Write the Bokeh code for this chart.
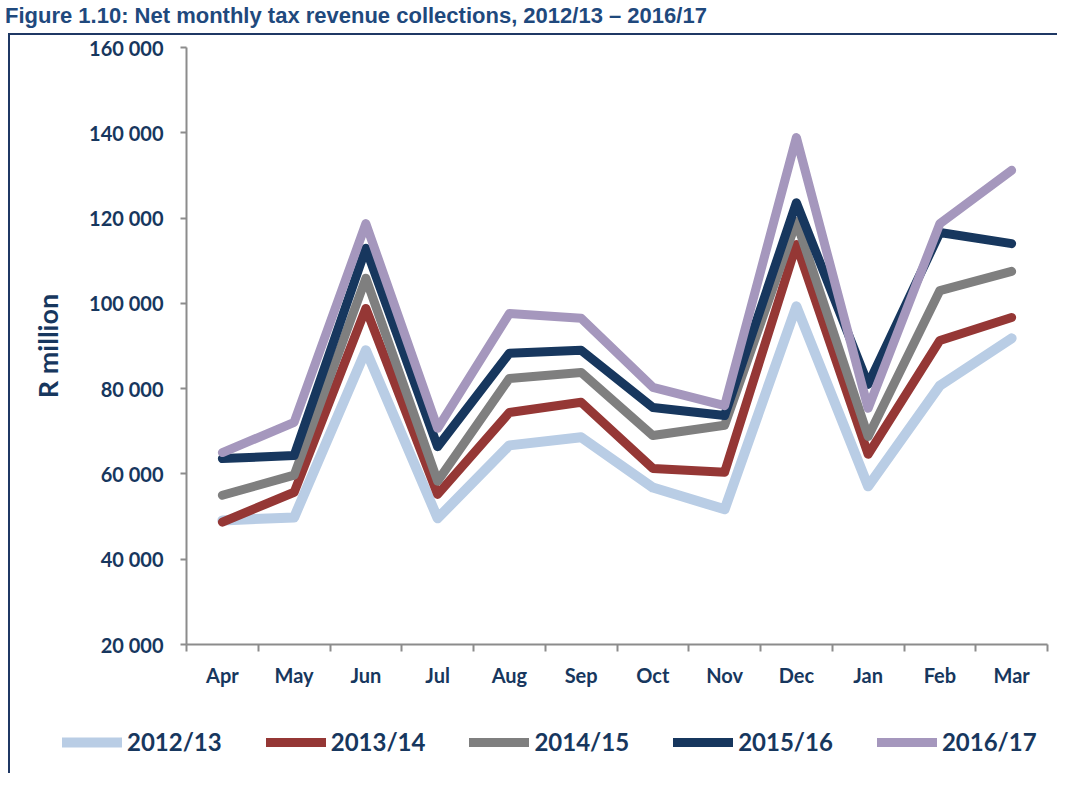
from bokeh.plotting import figure
from bokeh.models import Range1d, FixedTicker, Legend, LegendItem, Div
from bokeh.embed import file_html
from bokeh.resources import INLINE

title_text = "Figure 1.10: Net monthly tax revenue collections, 2012/13 \u2013 2016/17"
months = ["Apr", "May", "Jun", "Jul", "Aug", "Sep", "Oct", "Nov", "Dec", "Jan", "Feb", "Mar"]
series_names = ["2012/13", "2013/14", "2014/15", "2015/16", "2016/17"]
s2012 = [49100, 49800, 89000, 49600, 66700, 68600, 56800, 51700, 99300, 57100, 80700, 91800]
s2013 = [48700, 55700, 98800, 55200, 74400, 76800, 61300, 60400, 113800, 64600, 91300, 96700]
s2014 = [55000, 59700, 105900, 58300, 82400, 83800, 69000, 71400, 119200, 68800, 103000, 107500]
s2015 = [63600, 64300, 112900, 66400, 88300, 89000, 75600, 73700, 123600, 81000, 116600, 114000]
s2016 = [65000, 72100, 118700, 70700, 97600, 96500, 80300, 76000, 138900, 75400, 118700, 131200]
y_ticks = [20000, 40000, 60000, 80000, 100000, 120000, 140000, 160000]
y_tick_labels = ["20 000", "40 000", "60 000", "80 000", "100 000", "120 000", "140 000", "160 000"]
y_label = "R million"

colors = ["#B9CDE5", "#953735", "#7F7F7F", "#17375E", "#A597BD"]
widths = [10, 9, 9, 9, 9]
TEXT = "#17375E"
AXIS = "#8C8C8C"
BORDER = "2px solid #1F3864"
FONT = "Lato"

xs = [i + 1 for i in range(len(months))]
series = [s2012, s2013, s2014, s2015, s2016]

# ---- main chart ----
p = figure(width=1049, height=690, output_backend="svg", toolbar_location=None,
           x_range=Range1d(0.5, len(months) + 0.5), y_range=Range1d(y_ticks[0], y_ticks[-1]),
           min_border_left=176, min_border_right=12, min_border_top=12, min_border_bottom=81,
           margin=(0, 0, 0, 8),
           styles={"border-top": BORDER, "border-left": BORDER})
p.outline_line_color = None
p.xgrid.visible = False
p.ygrid.visible = False

for name, ys, c, w in zip(series_names, series, colors, widths):
    p.line(xs, ys, line_color=c, line_width=w, line_cap="round", line_join="round")

xa = p.xaxis[0]
xa.ticker = FixedTicker(ticks=xs, minor_ticks=[x - 0.5 for x in xs] + [xs[-1] + 0.5])
xa.major_label_overrides = {x: m for x, m in zip(xs, months)}
xa.major_tick_out = 0
xa.major_tick_in = 0
xa.minor_tick_out = 7
xa.minor_tick_in = 0
xa.minor_tick_line_color = AXIS
xa.minor_tick_line_width = 2
xa.axis_line_color = AXIS
xa.axis_line_width = 2
xa.major_label_standoff = 11
xa.major_label_text_font = FONT
xa.major_label_text_font_style = "bold"
xa.major_label_text_font_size = "20px"
xa.major_label_text_color = TEXT

ya = p.yaxis[0]
ya.ticker = FixedTicker(ticks=y_ticks, minor_ticks=[])
ya.major_label_overrides = {t: l for t, l in zip(y_ticks, y_tick_labels)}
ya.major_tick_out = 6
ya.major_tick_in = 0
ya.major_tick_line_color = AXIS
ya.major_tick_line_width = 2
ya.axis_line_color = AXIS
ya.axis_line_width = 2
ya.major_label_standoff = 17
ya.major_label_text_font = FONT
ya.major_label_text_font_style = "bold"
ya.major_label_text_font_size = "20px"
ya.major_label_text_color = TEXT
ya.axis_label = y_label
ya.axis_label_text_font = FONT
ya.axis_label_text_font_style = "bold"
ya.axis_label_text_font_size = "27px"
ya.axis_label_text_color = TEXT
ya.axis_label_standoff = 22

# ---- legend strip (same series, hidden renderers drive the legend glyphs) ----
lf = figure(width=1049, height=50, output_backend="svg", toolbar_location=None,
            x_axis_type=None, y_axis_type=None, min_border=0,
            margin=(0, 0, 0, 8), styles={"border-left": BORDER})
lf.outline_line_color = None
lf.xgrid.visible = False
lf.ygrid.visible = False
items = []
for name, ys, c, w in zip(series_names, series, colors, widths):
    r = lf.line(xs, ys, line_color=c, line_width=w, line_cap="round", visible=False)
    items.append(LegendItem(label=name, renderers=[r]))

legend = Legend(items=items, orientation="horizontal", location=(52, 17),
                padding=0, margin=0, spacing=44, glyph_width=60, glyph_height=24,
                label_standoff=5, label_text_font=FONT, label_text_font_style="bold",
                label_text_font_size="24px", label_text_color=TEXT,
                border_line_color=None, background_fill_alpha=0)
lf.add_layout(legend)

title = Div(text=title_text, width=1050, height=23,
            styles={"font-family": "Liberation Sans", "font-weight": "bold",
                    "font-size": "22px", "color": "#1F497D", "white-space": "nowrap",
                    "line-height": "22px"})

open("out.html", "w").write(file_html([title, p, lf], INLINE))
